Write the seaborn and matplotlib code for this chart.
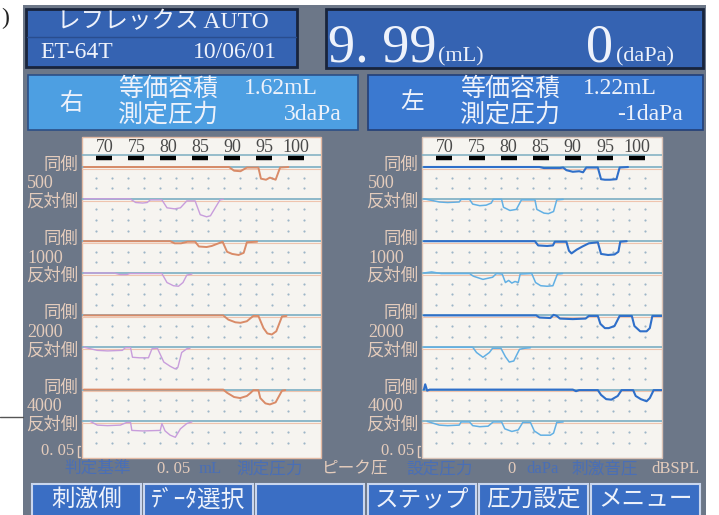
import numpy as np
import pandas as pd
import matplotlib
matplotlib.use('Agg')
import matplotlib.pyplot as plt
from matplotlib.patches import Rectangle
import seaborn as sns

sns.set_theme(style='white')
plt.rcParams['font.family'] = ['Liberation Serif', 'Noto Sans CJK JP', 'DejaVu Sans']
CJK = ['Noto Sans CJK JP', 'DejaVu Sans']
MIX = ['Liberation Serif', 'Noto Sans CJK JP', 'DejaVu Sans']

# ---------------- data ----------------
tick_levels = [70, 75, 80, 85, 90, 95, 100]
frequencies = ['500', '1000', '2000', '4000']

title_text = 'レフレックス AUTO'
model_text = 'ET-64T'
date_text = '10/06/01'
volume_value = '9. 99'
pressure_value = '0'
right_ear_volume = '1.62mL'
right_ear_pressure = '3daPa'
left_ear_volume = '1.22mL'
left_ear_pressure = '-1daPa'
button_labels = ['刺激側', 'ﾃﾞｰﾀ選択', '', 'ステップ', '圧力設定', 'メニュー']

# Right ear (右) traces: stimulus level (dB) and downward deflection (divisions)
r500_ipsi_x = [66.8, 89.5, 90.3, 91.3, 92.3, 94.1, 94.5, 95.3, 95.9, 96.8, 97.5, 98.8]
r500_ipsi_d = [0, 0, 0.35, 0.4, 0.05, 0.05, 1.1, 1.2, 1.0, 1.2, 0.05, 0]
r500_contra_x = [66.8, 74.0, 74.9, 76.0, 76.7, 77.2, 79.0, 79.8, 81.0, 81.9, 82.9, 84.2, 85.0, 86.0, 86.6, 88.1, 88.6]
r500_contra_d = [0, 0, 0.35, 0.4, 0.35, 0.1, 0.1, 0.85, 0.95, 0.85, 0.2, 0.2, 1.5, 1.7, 1.6, 0.1, 0.05]
r1000_ipsi_x = [66.8, 80.3, 81.0, 82.0, 83.0, 84.2, 84.8, 86.0, 86.8, 88.5, 89.2, 90.0, 91.0, 91.8, 92.3, 93.9]
r1000_ipsi_d = [0, 0, 0.2, 0.2, 0.05, 0.05, 0.5, 0.55, 0.45, 0.05, 1.0, 1.2, 1.3, 1.1, 0.1, 0.05]
r1000_contra_x = [66.8, 71.5, 72.5, 73.5, 74.0, 79.0, 79.8, 80.8, 81.6, 82.3, 82.9, 83.7]
r1000_contra_d = [0, 0, 0.15, 0.15, 0.05, 0.05, 0.9, 1.2, 1.25, 0.9, 0.2, 0.1]
r2000_ipsi_x = [66.8, 88.6, 89.4, 90.5, 91.3, 92.3, 92.8, 93.3, 94.1, 94.9, 95.5, 96.2, 96.9, 97.8, 98.5]
r2000_ipsi_d = [0, 0, 0.4, 0.65, 0.7, 0.55, 0.3, 0.05, 0.05, 1.2, 1.7, 1.8, 1.5, 0.1, 0.05]
r2000_contra_x = [66.8, 68.9, 70.5, 72.8, 73.3, 74.1, 74.4, 75.5, 76.9, 77.45, 78.3, 79.3, 80.3, 81.1, 81.5, 82.1, 82.9, 83.4]
r2000_contra_d = [0, 0.3, 0.35, 0.3, 0.05, 0.05, 0.95, 1.0, 1.0, 0.15, 0.1, 1.4, 1.8, 2.05, 1.9, 0.5, 0.15, 0.1]
r4000_ipsi_x = [66.8, 88.6, 89.2, 90.3, 91.25, 92.3, 92.9, 93.3, 94.1, 94.4, 95.2, 95.9, 96.8, 97.8, 98.3]
r4000_ipsi_d = [0, 0, 0.3, 0.7, 0.8, 0.6, 0.3, 0.05, 0.05, 0.8, 1.3, 1.4, 1.2, 0.1, 0.05]
r4000_contra_x = [67.8, 68.9, 70.5, 72.5, 73.5, 74.1, 74.3, 76.0, 78.75, 79.0, 79.5, 80.3, 81.1, 81.9, 82.9, 83.7]
r4000_contra_d = [0, 0.35, 0.4, 0.35, 0.1, 0.1, 0.85, 0.9, 0.85, 0.2, 0.9, 1.3, 1.5, 0.7, 0.2, 0.05]

# Left ear (左) traces
l500_ipsi_x = [66.8, 84.8, 85.5, 88.0, 88.5, 89.0, 90.0, 91.0, 91.6, 92.1, 93.9, 94.4, 95.0, 95.8, 96.8, 97.3, 98.6]
l500_ipsi_d = [0, 0, 0.1, 0.1, 0.05, 0.3, 0.45, 0.4, 0.5, 0.05, 0.05, 1.15, 1.2, 1.2, 1.15, 0.05, 0]
l500_contra_x = [66.8, 69.2, 70.5, 72.3, 72.6, 73.9, 74.4, 75.5, 76.5, 77.3, 77.6, 78.9, 79.2, 80.2, 81.2, 82.0, 84.1, 84.4, 85.5, 86.2, 87.0, 87.5, 88.5]
l500_contra_d = [0, 0.3, 0.35, 0.3, 0.05, 0.05, 0.5, 0.65, 0.6, 0.4, 0.05, 0.05, 0.8, 1.1, 1.0, 0.1, 0.1, 1.0, 1.35, 1.4, 1.2, 0.1, 0.05]
l1000_ipsi_x = [66.8, 84.1, 84.6, 86.0, 86.9, 87.2, 89.0, 89.4, 89.8, 90.6, 91.5, 92.5, 93.9, 94.4, 95.5, 96.5, 97.1, 97.4, 98.4]
l1000_ipsi_d = [0, 0, 0.4, 0.45, 0.4, 0.05, 0.05, 0.9, 1.15, 0.8, 0.5, 0.2, 0.1, 1.2, 1.3, 1.25, 1.0, 0.05, 0]
l1000_contra_x = [66.8, 68.0, 69.5, 73.9, 74.5, 76.0, 77.5, 78.1, 79.0, 79.5, 80.0, 80.5, 81.0, 81.5, 81.8, 83.6, 84.2, 85.0, 86.0, 86.9, 87.6, 88.4]
l1000_contra_d = [0, -0.1, 0.05, 0.05, 0.3, 0.6, 0.4, 0.05, 0.1, 0.9, 0.7, 0.95, 0.8, 0.9, 0.1, 0.05, 0.9, 1.2, 1.25, 1.2, 0.1, 0.05]
l2000_ipsi_x = [66.8, 84.3, 84.8, 86.5, 87.0, 87.5, 88.0, 90.0, 92.0, 92.5, 93.9, 94.3, 95.0, 95.6, 96.5, 97.3, 99.2, 99.6, 100.5, 101.5, 102.0, 102.4, 103.9]
l2000_ipsi_d = [0, 0, 0.2, 0.25, -0.05, 0.05, 0.3, 0.35, 0.3, 0.05, 0.05, 0.8, 1.2, 1.2, 1.0, 0.05, 0.05, 1.0, 1.5, 1.5, 1.2, 0.05, 0.05]
l2000_contra_x = [66.8, 74.4, 75.0, 76.0, 77.0, 77.5, 78.8, 79.5, 80.1, 80.8, 81.2, 81.7, 82.5, 83.4]
l2000_contra_d = [0, 0, 0.5, 0.95, 0.5, 0.1, 0.1, 0.9, 1.4, 1.3, 0.8, 0.2, 0.1, 0.05]
l4000_ipsi_x = [66.8, 67.0, 67.3, 67.7, 90.0, 90.5, 91.0, 93.9, 94.4, 95.2, 96.0, 97.0, 97.6, 99.4, 99.8, 100.6, 101.5, 102.0, 102.6, 103.9]
l4000_ipsi_d = [0, -0.5, 0.1, 0, 0, 0.15, 0.05, 0.05, 0.5, 0.9, 0.95, 0.6, 0.05, 0.05, 0.6, 0.9, 1.1, 0.8, 0.05, 0.05]
l4000_contra_x = [67.3, 69.2, 70.5, 72.3, 72.6, 73.9, 74.4, 75.5, 76.8, 77.6, 78.9, 79.4, 80.5, 81.5, 82.2, 83.4, 84.0, 85.0, 86.5, 87.0, 87.5, 88.5]
l4000_contra_d = [0, 0.35, 0.4, 0.35, 0.05, 0.05, 0.4, 0.5, 0.45, 0.05, 0.05, 0.7, 0.95, 0.8, 0.1, 0.1, 0.9, 1.3, 1.3, 1.1, 0.1, 0.05]

# ---------------- build long-form table ----------------
ipsi_rows = [0, 7, 14, 21]
contra_rows = [3, 10, 17, 24]
traces = [
    ('右', '500', 'ipsi', r500_ipsi_x, r500_ipsi_d), ('右', '500', 'contra', r500_contra_x, r500_contra_d),
    ('右', '1000', 'ipsi', r1000_ipsi_x, r1000_ipsi_d), ('右', '1000', 'contra', r1000_contra_x, r1000_contra_d),
    ('右', '2000', 'ipsi', r2000_ipsi_x, r2000_ipsi_d), ('右', '2000', 'contra', r2000_contra_x, r2000_contra_d),
    ('右', '4000', 'ipsi', r4000_ipsi_x, r4000_ipsi_d), ('右', '4000', 'contra', r4000_contra_x, r4000_contra_d),
    ('左', '500', 'ipsi', l500_ipsi_x, l500_ipsi_d), ('左', '500', 'contra', l500_contra_x, l500_contra_d),
    ('左', '1000', 'ipsi', l1000_ipsi_x, l1000_ipsi_d), ('左', '1000', 'contra', l1000_contra_x, l1000_contra_d),
    ('左', '2000', 'ipsi', l2000_ipsi_x, l2000_ipsi_d), ('左', '2000', 'contra', l2000_contra_x, l2000_contra_d),
    ('左', '4000', 'ipsi', l4000_ipsi_x, l4000_ipsi_d), ('左', '4000', 'contra', l4000_contra_x, l4000_contra_d),
]
rows = []
for ear, f, side, xs, ds in traces:
    i = frequencies.index(f)
    base = ipsi_rows[i] if side == 'ipsi' else contra_rows[i]
    for x, d in zip(xs, ds):
        rows.append({'ear': ear, 'freq': f, 'side': side, 'level': x, 'pos': base + d,
                     'trace': f'{ear}-{f}-{side}'})
df = pd.DataFrame(rows)

colors = {('右', 'ipsi'): '#d98b68', ('右', 'contra'): '#c89ddc',
          ('左', 'ipsi'): '#2f6fc9', ('左', 'contra'): '#62b0e4'}
widths = {('右', 'ipsi'): 1.4, ('右', 'contra'): 1.0, ('左', 'ipsi'): 1.5, ('左', 'contra'): 1.1}

# ---------------- figure ----------------
W, H = 719, 515
fig = plt.figure(figsize=(W / 100, H / 100), dpi=100, facecolor='white')
bg = fig.add_axes([0, 0, 1, 1])
bg.set_xlim(0, W)
bg.set_ylim(H, 0)
bg.set_axis_off()


def box(x0, y0, x1, y1, fc, ec=None, lw=0.0, z=1):
    bg.add_patch(Rectangle((x0, y0), x1 - x0, y1 - y0, facecolor=fc,
                           edgecolor=ec if ec else fc, lw=lw, zorder=z))


WHITE = '#eef2fb'
BEIGE = '#e4ccbc'
DIMBLUE = '#4a6fb6'

bg.text(1, 18, ')', fontsize=17, color='#222222', ha='left', va='center')
bg.plot([0, 23], [417, 417], color='#555555', lw=1)

box(23, 5, 706, 515, '#6c7788')
box(26, 9, 297, 67, '#3563b2', '#18243c', 2, z=2)
bg.plot([27, 296], [37, 37], color='#294d8e', lw=1, zorder=3)
box(326, 9, 703, 68, '#3563b2', '#18243c', 2, z=2)
box(28, 75, 358, 130, '#4d9fe2', '#2c4f86', 1.2, z=2)
box(368, 75, 703, 130, '#3b79d0', '#223f78', 1.2, z=2)

bg.text(163, 23, title_text, color=WHITE, fontsize=17, ha='center', va='center', family=MIX, zorder=4)
bg.text(40, 53, model_text, color=WHITE, fontsize=17, ha='left', va='center', zorder=4)
bg.text(277, 53, date_text, color=WHITE, fontsize=17, ha='right', va='center', zorder=4)
bg.text(328, 61, volume_value, color=WHITE, fontsize=39, ha='left', va='baseline', zorder=4)
bg.text(438, 61, '(mL)', color=WHITE, fontsize=16, ha='left', va='baseline', zorder=4)
bg.text(613, 61, pressure_value, color=WHITE, fontsize=39, ha='right', va='baseline', zorder=4)
bg.text(616, 61, '(daPa)', color=WHITE, fontsize=16, ha='left', va='baseline', zorder=4)

for (ex, name, vol, prs, x0, xr_vol, xr_prs) in [
        (71, '右', right_ear_volume, right_ear_pressure, 118, 318, 342),
        (412, '左', left_ear_volume, left_ear_pressure, 460, 657, 683)]:
    bg.text(ex, 103, name, color=WHITE, fontsize=17, ha='center', va='center', family=CJK, zorder=4)
    bg.text(x0, 89, '等価容積', color=WHITE, fontsize=18, ha='left', va='center', family=CJK, zorder=4)
    bg.text(x0, 115, '測定圧力', color=WHITE, fontsize=18, ha='left', va='center', family=CJK, zorder=4)
    bg.text(xr_vol, 89, vol, color=WHITE, fontsize=17, ha='right', va='center', zorder=4)
    bg.text(xr_prs, 115, prs, color=WHITE, fontsize=17, ha='right', va='center', zorder=4)

# panel backgrounds
box(82, 137, 321, 458, '#f6f4f0', '#e2b9a3', 1, z=2)
box(422, 137, 662, 458, '#f6f4f0', '#d9c2b6', 1, z=2)

# row labels
for px_right, px_left in [(78, 27), (418, 368)]:
    for i, f in enumerate(frequencies):
        yi = 167 + 10.6 * ipsi_rows[i]
        yc = 167 + 10.6 * contra_rows[i]
        bg.text(px_right, yi - 2, '同側', color=BEIGE, fontsize=12.5, ha='right', va='center', family=CJK, zorder=4)
        bg.text(px_left, yi + 17, f, color=BEIGE, fontsize=13, ha='left', va='center', zorder=4)
        bg.text(px_right, yc + 3, '反対側', color=BEIGE, fontsize=12.5, ha='right', va='center', family=CJK, zorder=4)
    bg.text(px_right - 4, 451, '0. 05', color=BEIGE, fontsize=12, ha='right', va='center', zorder=4)
    bg.plot([px_right + 2, px_right, px_right, px_right + 2], [446, 446, 457, 457], color=BEIGE, lw=1, zorder=4)

# bottom status row
status = [(98, '判定基準', DIMBLUE), (174, '0. 05', BEIGE), (210, 'mL', DIMBLUE), (270, '測定圧力', DIMBLUE),
          (355, 'ピーク圧', BEIGE), (440, '設定圧力', DIMBLUE), (511, '0', BEIGE), (543, 'daPa', DIMBLUE),
          (605, '刺激音圧', DIMBLUE), (675, 'dBSPL', BEIGE)]
for x, t, c in status:
    bg.text(x, 469, t, color=c, fontsize=12, ha='center', va='center', family=MIX, zorder=4)

# buttons
button_x = [(32, 141), (144, 253), (256, 364), (368, 476), (479, 588), (591, 700)]
for (x0, x1), lab in zip(button_x, button_labels):
    box(x0, 484, x1, 520, '#3a6ec4', '#c9d6ee', 1.5, z=2)
    bg.text((x0 + x1) / 2, 500, lab, color=WHITE, fontsize=17, ha='center', va='center', family=CJK, zorder=4)

# ---------------- data panels ----------------
R_TOP = (137 - 167) / 10.6
R_BOT = (458 - 167) / 10.6
dot_rows = [r for r in range(1, 27) if r not in ipsi_rows + contra_rows]
dot_cols = np.arange(68.75, 102.0, 2.5)

for ear, (x0, x1) in [('右', (82, 321)), ('左', (422, 662))]:
    ax = fig.add_axes([x0 / W, 1 - 458 / H, (x1 - x0) / W, (458 - 137) / H])
    ax.set_xlim(66.5, 103.9)
    ax.set_ylim(R_BOT, R_TOP)
    ax.set_axis_off()
    ax.patch.set_alpha(0)

    gx, gy = np.meshgrid(dot_cols, dot_rows)
    ax.scatter(gx.ravel(), gy.ravel(), s=2.5, color='#9db6c8', linewidths=0, zorder=1)

    ax.axhline((155 - 167) / 10.6, color='#86b2c4', lw=1.2, zorder=2)
    for t in tick_levels:
        ax.text(t, (147 - 167) / 10.6, str(t), color='#4a4a4a', fontsize=13, ha='center', va='center')
        ax.plot([t - 1.25, t + 1.25], [(158 - 167) / 10.6] * 2, color='black', lw=3.2,
                solid_capstyle='butt', zorder=3)

    for r in ipsi_rows + contra_rows:
        ax.axhline(r + 0.17, color='#efc4ae', lw=0.8, zorder=2)
        ax.axhline(r, color='#84b3c6', lw=1.3, zorder=2)

    sub = df[df['ear'] == ear]
    for tr, g in sub.groupby('trace', sort=False):
        side = g['side'].iloc[0]
        sns.lineplot(data=g, x='level', y='pos', ax=ax, color=colors[(ear, side)],
                     lw=widths[(ear, side)], estimator=None, sort=False, legend=False, zorder=4)
    ax.set_xlim(66.5, 103.9)
    ax.set_ylim(R_BOT, R_TOP)
    ax.set_axis_off()

fig.savefig('out.png', dpi=100, facecolor='white')
